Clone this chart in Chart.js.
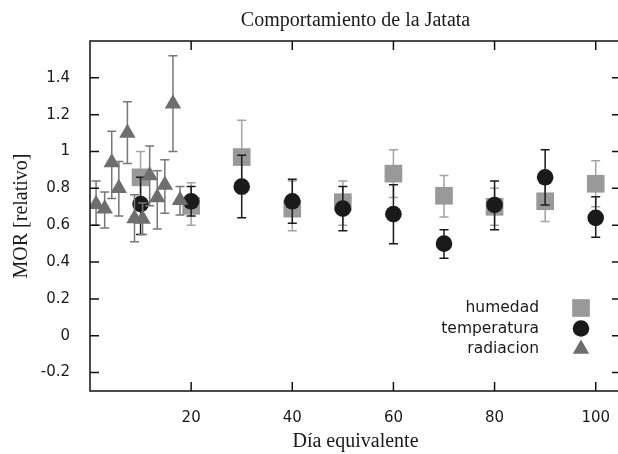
<!DOCTYPE html>
<html>
<head>
<meta charset="utf-8">
<script src="https://cdn.jsdelivr.net/npm/chart.js@4/dist/chart.umd.min.js"></script>
<style>
    html, body { margin: 0; padding: 0; background: #fff; overflow: hidden; }
</style>
</head>
<body>
<canvas id="chart" width="623" height="454"></canvas>
<script>
const chartTitle = 'Comportamiento de la Jatata';
const xTitle = 'Día equivalente';
const yTitle = 'MOR [relativo]';
const xTicks = [20, 40, 60, 80, 100];
const yTicks = [-0.2, 0, 0.2, 0.4, 0.6, 0.8, 1, 1.2, 1.4];

// humedad
const humedadX = [10, 20, 30, 40, 50, 60, 70, 80, 90, 100];
const humedadY = [0.86, 0.705, 0.97, 0.69, 0.725, 0.88, 0.76, 0.70, 0.73, 0.825];
const humedadLow = [0.72, 0.60, 0.77, 0.57, 0.60, 0.75, 0.645, 0.60, 0.62, 0.70];
const humedadHigh = [1.0, 0.83, 1.17, 0.84, 0.84, 1.01, 0.87, 0.80, 0.84, 0.95];

// temperatura
const temperaturaX = [10, 20, 30, 40, 50, 60, 70, 80, 90, 100];
const temperaturaY = [0.715, 0.73, 0.81, 0.73, 0.69, 0.66, 0.50, 0.71, 0.86, 0.64];
const temperaturaLow = [0.55, 0.65, 0.64, 0.61, 0.57, 0.50, 0.42, 0.575, 0.71, 0.535];
const temperaturaHigh = [0.86, 0.81, 0.98, 0.85, 0.81, 0.82, 0.575, 0.84, 1.01, 0.755];

// radiacion
const radiacionX = [1.2, 2.9, 4.3, 5.7, 7.4, 8.8, 10.4, 11.8, 13.3, 14.8, 16.4, 17.8];
const radiacionY = [0.714, 0.69, 0.94, 0.80, 1.10, 0.637, 0.634, 0.87, 0.75, 0.818, 1.26, 0.736];
const radiacionLow = [0.60, 0.585, 0.745, 0.65, 0.935, 0.51, 0.55, 0.705, 0.58, 0.665, 1.0, 0.655];
const radiacionHigh = [0.84, 0.78, 1.11, 0.946, 1.27, 0.765, 0.72, 1.03, 0.895, 0.955, 1.52, 0.81];

function toPoints(xs, ys, lows, highs) {
    return xs.map((x, i) => ({ x: x, y: ys[i], lo: lows[i], hi: highs[i] }));
}

// error bars drawn under each dataset's markers
const errorBars = {
    id: 'errorBars',
    beforeDatasetDraw(chart, args) {
        const ds = chart.data.datasets[args.index];
        const xs = chart.scales.x, ys = chart.scales.y;
        const ctx = chart.ctx;
        ctx.save();
        ctx.strokeStyle = ds.errColor;
        ctx.lineWidth = 1.5;
        ds.data.forEach(p => {
            const px = xs.getPixelForValue(p.x);
            const lo = ys.getPixelForValue(p.lo);
            const hi = ys.getPixelForValue(p.hi);
            ctx.beginPath();
            ctx.moveTo(px, lo); ctx.lineTo(px, hi);
            ctx.moveTo(px - 4.5, lo); ctx.lineTo(px + 4.5, lo);
            ctx.moveTo(px - 4.5, hi); ctx.lineTo(px + 4.5, hi);
            ctx.stroke();
        });
        ctx.restore();
    }
};

// gnuplot style frame, inward ticks, title and key
const frame = {
    id: 'frame',
    afterDraw(chart) {
        const ctx = chart.ctx;
        const a = chart.chartArea;
        const xs = chart.scales.x, ys = chart.scales.y;
        ctx.save();
        ctx.strokeStyle = '#111';
        ctx.lineWidth = 1.5;
        ctx.strokeRect(a.left, a.top, a.right - a.left, a.bottom - a.top);
        ctx.beginPath();
        xs.ticks.forEach(t => {
            const px = xs.getPixelForValue(t.value);
            ctx.moveTo(px, a.bottom); ctx.lineTo(px, a.bottom - 9);
            ctx.moveTo(px, a.top); ctx.lineTo(px, a.top + 9);
        });
        ys.ticks.forEach(t => {
            const py = ys.getPixelForValue(t.value);
            ctx.moveTo(a.left, py); ctx.lineTo(a.left + 9, py);
            ctx.moveTo(a.right, py); ctx.lineTo(a.right - 9, py);
        });
        ctx.stroke();

        ctx.fillStyle = '#1a1a1a';
        ctx.font = '20px "Liberation Serif"';
        ctx.textAlign = 'center';
        ctx.textBaseline = 'middle';
        ctx.fillText(chartTitle, (a.left + a.right) / 2, 21);

        // key
        ctx.font = '15.5px "DejaVu Sans"';
        ctx.textAlign = 'right';
        chart.data.datasets.forEach((ds, i) => {
            const y = 308 + i * 20.5;
            ctx.fillStyle = '#1a1a1a';
            ctx.fillText(ds.label, 539, y);
            ctx.fillStyle = ds.backgroundColor;
            Chart.helpers.drawPoint(ctx, { pointStyle: ds.pointStyle, radius: ds.pointRadius, rotation: 0, borderWidth: 0 }, 581, y);
        });
        ctx.restore();
    }
};

const tickFont = { family: 'DejaVu Sans', size: 15 };
const titleFont = { family: 'Liberation Serif', size: 20 };

new Chart(document.getElementById('chart'), {
    type: 'scatter',
    data: {
        datasets: [
            {
                label: 'humedad',
                data: toPoints(humedadX, humedadY, humedadLow, humedadHigh),
                pointStyle: 'rect',
                pointRadius: 12.5,
                backgroundColor: '#999999',
                borderWidth: 0,
                errColor: '#a3a3a3',
                order: 3
            },
            {
                label: 'temperatura',
                data: toPoints(temperaturaX, temperaturaY, temperaturaLow, temperaturaHigh),
                pointStyle: 'circle',
                pointRadius: 8.3,
                backgroundColor: '#1a1a1a',
                borderWidth: 0,
                errColor: '#1a1a1a',
                order: 2
            },
            {
                label: 'radiacion',
                data: toPoints(radiacionX, radiacionY, radiacionLow, radiacionHigh),
                pointStyle: 'triangle',
                pointRadius: 9.5,
                backgroundColor: '#6e6e6e',
                borderWidth: 0,
                errColor: '#777777',
                order: 1
            }
        ]
    },
    options: {
        responsive: false,
        animation: false,
        events: [],
        layout: { autoPadding: false, padding: { top: 41, right: 2, left: 0, bottom: 0 } },
        plugins: {
            legend: { display: false },
            tooltip: { enabled: false }
        },
        scales: {
            x: {
                type: 'linear',
                min: 0,
                max: 105,
                grid: { display: false },
                border: { display: false },
                afterBuildTicks: s => { s.ticks = xTicks.map(v => ({ value: v })); },
                afterFit: s => { s.height = 63; s.paddingLeft = 0; s.paddingRight = 0; },
                ticks: { font: tickFont, color: '#1a1a1a', padding: 10, maxRotation: 0 },
                title: { display: true, text: xTitle, font: titleFont, color: '#1a1a1a', padding: 0 }
            },
            y: {
                type: 'linear',
                min: -0.3,
                max: 1.6,
                grid: { display: false },
                border: { display: false },
                afterBuildTicks: s => { s.ticks = yTicks.map(v => ({ value: v })); },
                afterFit: s => { s.width = 90; s.paddingTop = 0; s.paddingBottom = 0; },
                ticks: {
                    font: tickFont,
                    color: '#1a1a1a',
                    padding: 12,
                    callback: v => String(+v.toFixed(1))
                },
                title: { display: true, text: yTitle, font: titleFont, color: '#1a1a1a', padding: { top: 10 } }
            }
        }
    },
    plugins: [errorBars, frame]
});
</script>
</body>
</html>
